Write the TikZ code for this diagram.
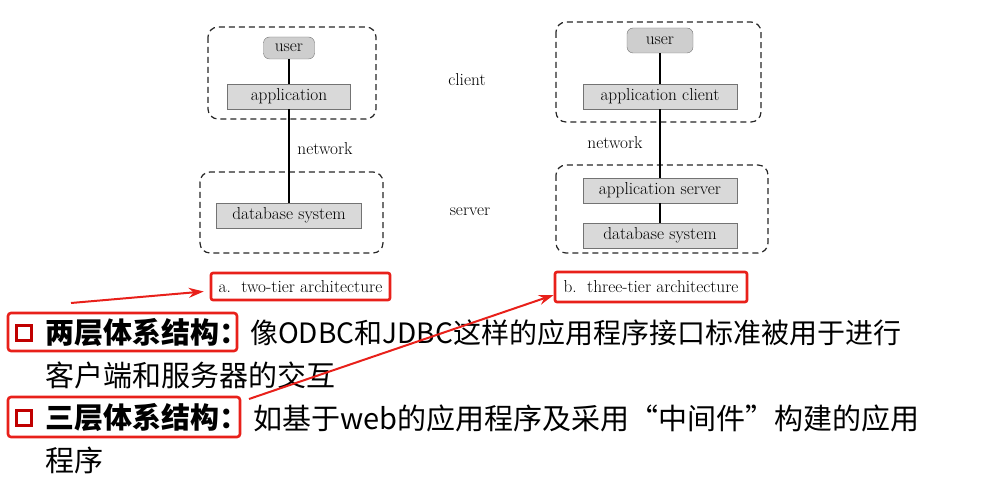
\documentclass[tikz,border=0pt]{standalone}
\usepackage{fontspec}
\newfontfamily\cjk{Noto Sans CJK SC}
\usetikzlibrary{arrows.meta}
\definecolor{boxgray}{RGB}{217,217,217}
\definecolor{usergray}{RGB}{206,206,206}
\definecolor{markred}{RGB}{232,32,26}
\definecolor{bulletred}{RGB}{192,0,0}
\begin{document}
\begin{tikzpicture}[x=1pt,y=-1pt,
    tier/.style={draw=black!55,fill=boxgray,minimum height=25pt,inner sep=0pt,font=\fontsize{17.3}{20}\selectfont},
    usr/.style={tier,fill=usergray,rounded corners=6pt},
    zone/.style={draw=black!85,dash pattern=on 6pt off 4pt,line width=1.2pt,rounded corners=10pt},
    lbl/.style={font=\fontsize{17.3}{20}\selectfont},
    link/.style={line width=1.3pt},
    callout/.style={draw=markred,line width=2.6pt,rounded corners=2pt,minimum height=27pt,font=\fontsize{17.3}{20}\selectfont},
    frame/.style={draw=markred,line width=2.6pt,rounded corners=3pt},
    bullet/.style={draw=bulletred,line width=3.5pt,minimum size=15pt,inner sep=0pt},
    cn/.style={anchor=west,inner sep=0pt,font=\cjk\fontsize{29}{34}\selectfont},
    redarrow/.style={draw=markred,line width=2pt,-{Stealth[length=15pt,width=10pt]}}]
    \useasboundingbox (0,0) rectangle (988,502);
    % two-tier
    \draw[zone] (208,27) rectangle (376,119);
    \draw[zone] (200,172) rectangle (383,253);
        \node[usr,minimum width=51pt,minimum height=22pt] (user1) at (289,48) {user};
        \node[tier,minimum width=123pt] (app1) at (289,96.5) {application};
        \node[tier,minimum width=145pt] (db1) at (289,215.5) {database system};
        \draw[link] (user1) -- (app1);
        \draw[link] (app1) -- (db1);
        \node[lbl] (net1) at (325,149) {network};
    \node[lbl] (cl) at (467,80) {client};
    \node[lbl] (sv) at (470,212) {server};
    % three-tier
    \draw[zone] (556,22) rectangle (761,122);
    \draw[zone] (556,165) rectangle (768,253);
        \node[usr,minimum width=66pt] (user2) at (660,40.5) {user};
        \node[tier,minimum width=154pt] (appc) at (660,96.5) {application client};
        \node[tier,minimum width=154pt] (apps) at (660,190.5) {application server};
        \node[tier,minimum width=154pt] (db2) at (660,235.5) {database system};
        \draw[link] (user2) -- (appc);
        \draw[link] (appc) -- (apps);
        \draw[link] (apps) -- (db2);
        \node[lbl] (net2) at (615,143) {network};
    % captions
    \node[callout,minimum width=179pt] (capA) at (300.5,286.5) {a.\ \ two-tier architecture};
    \node[callout,minimum width=192pt,minimum height=30pt] (capB) at (651,287) {b.\ \ three-tier architecture};
    % text lines
    \node[bullet] (b1) at (24,333) {};
    \node[cn] (two) at (45,333) {\bfseries 两层体系结构：};
    \draw[frame] (8,313) rectangle (237,351);
    \node[cn,font=\cjk\fontsize{28}{34}\selectfont] (l1) at (250,333) {像ODBC和JDBC这样的应用程序接口标准被用于进行};
    \node[cn] (l2) at (45,375) {客户端和服务器的交互};
    \node[bullet] (b2) at (24,418) {};
    \node[cn] (three) at (45,418) {\bfseries 三层体系结构：};
    \draw[frame] (8,397) rectangle (240,437);
    \node[cn] (l3) at (253,418) {如基于web的应用程序及采用“中间件”构建的应用};
    \node[cn] (l4) at (45,460) {程序};
    % arrows
    \coordinate (tailA) at (71,303);
    \coordinate (tailB) at (249,399);
    \draw[redarrow] (tailA) -- ([shift={(-6,5)}]capA.west);
    \draw[redarrow] (tailB) -- ([shift={(0,8)}]capB.west);
\end{tikzpicture}
\end{document}
